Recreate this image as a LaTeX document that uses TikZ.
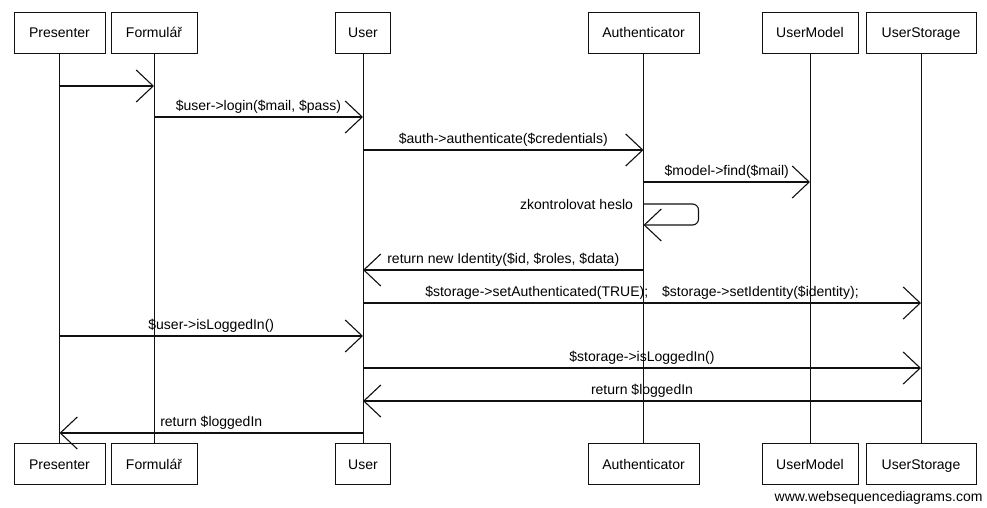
\documentclass[tikz,border=0pt]{standalone}
\usepackage{fontspec}
\setmainfont{Liberation Sans}
\usepackage{tikz}
\usetikzlibrary{calc,positioning,arrows.meta}
\definecolor{inkline}{HTML}{111111}

\tikzset{
  actor/.style={rectangle, draw=inkline, line width=0.9pt, fill=white, inner sep=0pt,
    minimum height=41pt, text height=12pt, text depth=1pt, font=\fontsize{14}{16}\selectfont},
  lifeline/.style={draw=inkline, line width=0.9pt},
  msg/.style={draw=inkline, line width=1.1pt, -{Straight Barb[length=17pt, width=32pt, line width=1.1pt]}},
  msglabel/.style={font=\fontsize{14}{16}\selectfont, inner sep=1pt, above=2pt}
}

\begin{document}
\begin{tikzpicture}[x=1pt, y=-1pt]
  \useasboundingbox (0,0) rectangle (987,508);

  % Top actors
  \node[actor, minimum width=91pt] (presT) at (59.5,32.5) {Presenter};
  \node[actor, minimum width=86pt] (formT) at (154,32.5) {Formulář};
  \node[actor, minimum width=55pt] (userT) at (363,32.5) {User};
  \node[actor, minimum width=111pt] (authT) at (643.5,32.5) {Authenticator};
  \node[actor, minimum width=96pt] (modelT) at (810,32.5) {UserModel};
  \node[actor, minimum width=110pt] (storT) at (921,32.5) {UserStorage};

  % Bottom actors
  \node[actor, minimum width=91pt] (presB) at (59.5,464) {Presenter};
  \node[actor, minimum width=86pt] (formB) at (154,464) {Formulář};
  \node[actor, minimum width=55pt] (userB) at (363,464) {User};
  \node[actor, minimum width=111pt] (authB) at (643.5,464) {Authenticator};
  \node[actor, minimum width=96pt] (modelB) at (810,464) {UserModel};
  \node[actor, minimum width=110pt] (storB) at (921,464) {UserStorage};

  % Lifelines
  \foreach \who in {pres,form,user,auth,model,stor}
    \draw[lifeline] (\who T.south) -- (\who B.north);

  % Messages
  \draw[msg] (presT.south |- 0,86) -- (formT.south |- 0,86);
  \draw[msg] (formT.south |- 0,117) -- (userT.south |- 0,117)
    node[midway, msglabel] {\$user->login(\$mail, \$pass)};
  \draw[msg] (userT.south |- 0,150) -- (authT.south |- 0,150)
    node[midway, msglabel] {\$auth->authenticate(\$credentials)};
  \draw[msg] (authT.south |- 0,182) -- (modelT.south |- 0,182)
    node[midway, msglabel] {\$model->find(\$mail)};

  % Self call
  \coordinate (selfA) at (authT.south |- 0,204);
  \coordinate (selfB) at (authT.south |- 0,225);
  \draw[msg, rounded corners=6pt] (selfA) -- ++(55,0) -- ++(0,21) -- (selfB);
  \node[anchor=east, font=\fontsize{14}{16}\selectfont] (selflbl) at ([xshift=-7pt]selfA) {zkontrolovat heslo};

  \draw[msg] (authT.south |- 0,270) -- (userT.south |- 0,270)
    node[midway, msglabel] {return new Identity(\$id, \$roles, \$data)};
  \draw[msg] (userT.south |- 0,303) -- (storT.south |- 0,303)
    node[midway, msglabel] {\$storage->setAuthenticated(TRUE);\quad\$storage->setIdentity(\$identity);};
  \draw[msg] (presT.south |- 0,336) -- (userT.south |- 0,336)
    node[midway, msglabel] {\$user->isLoggedIn()};
  \draw[msg] (userT.south |- 0,368) -- (storT.south |- 0,368)
    node[midway, msglabel] {\$storage->isLoggedIn()};
  \draw[msg] (storT.south |- 0,401) -- (userT.south |- 0,401)
    node[midway, msglabel] {return \$loggedIn};
  \draw[msg] (userT.south |- 0,433) -- (presT.south |- 0,433)
    node[midway, msglabel] {return \$loggedIn};

  % Footer
  \node[anchor=east, font=\fontsize{14}{16}\selectfont] (footer) at (986,498) {www.websequencediagrams.com};
\end{tikzpicture}
\end{document}
